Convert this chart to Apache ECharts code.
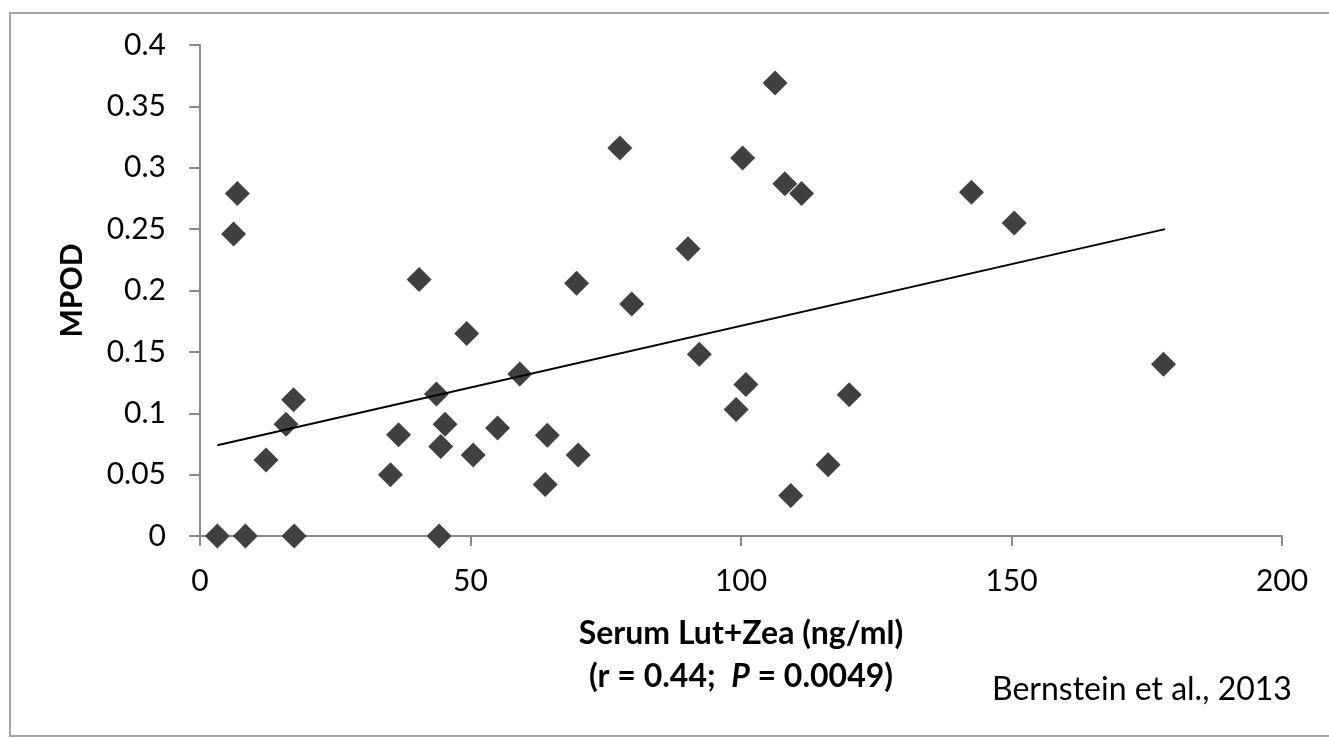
<!DOCTYPE html>
<html>
<head>
<meta charset="utf-8">
<script src="https://cdn.jsdelivr.net/npm/echarts@6/dist/echarts.min.js"></script>
<style>
  html, body { margin: 0; padding: 0; background: #ffffff; }
  #chart { width: 1329px; height: 738px; }
</style>
</head>
<body>
<div id="chart"></div>
<script>
// Serum Lut+Zea (ng/ml)
const serumX = [3.2, 8.4, 17.4, 44.2, 6.9, 6.2, 12.2, 15.9, 17.3, 35.2, 36.7, 40.5, 43.7, 44.5, 45.3,
  49.3, 50.5, 55.0, 59.1, 63.8, 64.2, 69.6, 69.9, 77.6, 79.8, 90.2, 92.3, 99.1, 100.3, 100.9,
  106.3, 108.1, 109.2, 111.2, 116.1, 120.0, 142.6, 150.5, 178.1];
// MPOD
const mpodY = [0, 0, 0, 0, 0.279, 0.246, 0.062, 0.091, 0.111, 0.050, 0.0825, 0.209, 0.1157, 0.073, 0.091,
  0.165, 0.066, 0.088, 0.132, 0.042, 0.082, 0.206, 0.066, 0.316, 0.189, 0.234, 0.148, 0.103, 0.308, 0.1235,
  0.369, 0.287, 0.033, 0.279, 0.058, 0.115, 0.280, 0.255, 0.140];
// Trendline endpoints
const trendX = [3.2, 178.4];
const trendY = [0.074, 0.250];
// Tick labels
const xTickLabels = ['0', '50', '100', '150', '200'];
const yTickLabels = ['0', '0.05', '0.1', '0.15', '0.2', '0.25', '0.3', '0.35', '0.4'];

const points = serumX.map((x, i) => [x, mpodY[i]]);
const trend = trendX.map((x, i) => [x, trendY[i]]);

const FONT = 'Lato, "Open Sans", sans-serif';
const axisGray = '#8a8a8a';

const chart = echarts.init(document.getElementById('chart'), null, { renderer: 'canvas' });
chart.setOption({
  backgroundColor: '#ffffff',
  animation: false,
  graphic: [
    {
      type: 'rect', silent: true, z: -1,
      shape: { x: 10, y: 13, width: 1340, height: 723 },
      style: { fill: 'none', stroke: '#a6a6a6', lineWidth: 2 }
    },
    {
      type: 'text', silent: true,
      left: 992, top: 674,
      style: { text: 'Bernstein et al., 2013', font: '32px ' + FONT, fill: '#000000' }
    }
  ],
  grid: { left: 200, right: 47, top: 45, bottom: 202, containLabel: false },
  xAxis: {
    type: 'value', min: 0, max: 200, interval: 50,
    axisLine: { show: true, onZero: false, lineStyle: { color: axisGray, width: 2 } },
    axisTick: { show: true, inside: false, length: 10, lineStyle: { color: axisGray, width: 2 } },
    splitLine: { show: false },
    axisLabel: {
      margin: 30, color: '#000000', fontFamily: FONT, fontSize: 30,
      formatter: (v, i) => xTickLabels[i]
    },
    name: '{b|Serum Lut+Zea (ng/ml)}\n{b|(r = 0.44;  }{i|P}{b| = 0.0049)}',
    nameLocation: 'middle',
    nameGap: 76,
    nameTextStyle: {
      color: '#000000',
      rich: {
        b: { fontFamily: FONT, fontWeight: 'bold', fontSize: 32, lineHeight: 43, color: '#000' },
        i: { fontFamily: FONT, fontWeight: 'bold', fontStyle: 'italic', fontSize: 32, lineHeight: 43, color: '#000' }
      }
    }
  },
  yAxis: {
    type: 'value', min: 0, max: 0.4, interval: 0.05,
    axisLine: { show: true, onZero: false, lineStyle: { color: axisGray, width: 2 } },
    axisTick: { show: true, inside: false, length: 11, lineStyle: { color: axisGray, width: 2 } },
    splitLine: { show: false },
    axisLabel: {
      margin: 34, color: '#000000', fontFamily: FONT, fontSize: 30,
      formatter: (v, i) => yTickLabels[i]
    },
    name: 'MPOD',
    nameLocation: 'middle',
    nameRotate: 90,
    nameGap: 113,
    nameTextStyle: { color: '#000000', fontFamily: FONT, fontWeight: 'bold', fontSize: 30 }
  },
  series: [
    {
      type: 'line',
      data: trend,
      symbol: 'none',
      lineStyle: { color: '#000000', width: 2 },
      z: 3
    },
    {
      type: 'scatter',
      data: points,
      symbol: 'diamond',
      symbolSize: 25,
      itemStyle: { color: '#404040', opacity: 1 },
      z: 2
    }
  ]
});
</script>
</body>
</html>
